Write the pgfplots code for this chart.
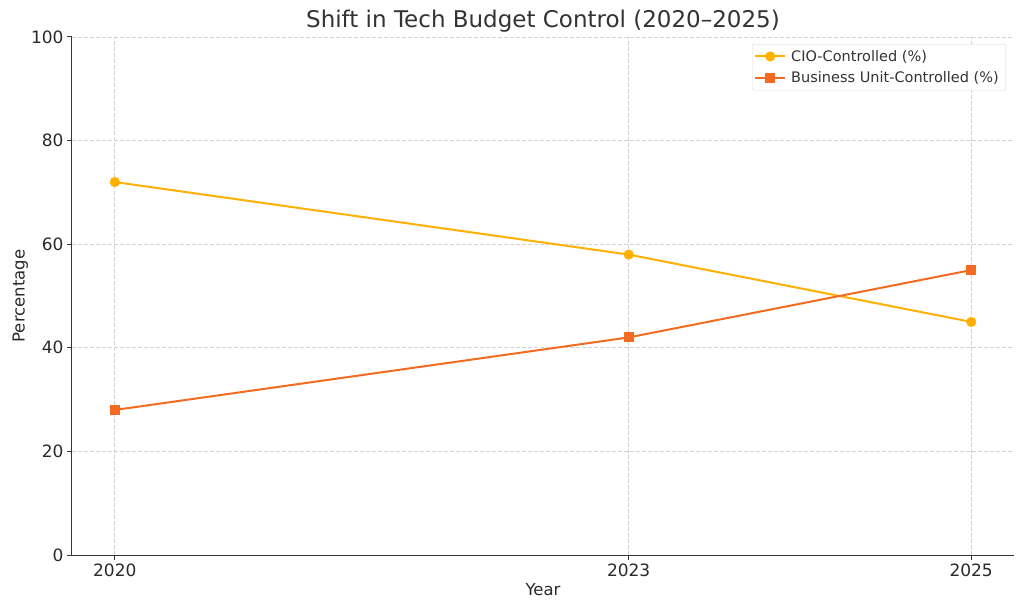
\documentclass[border=0pt]{standalone}
\usepackage{pgfplots}
\pgfplotsset{compat=1.18}
\usepackage{fontspec}
\setmainfont{DejaVu Sans}
\definecolor{cio}{HTML}{FFB000}
\definecolor{bu}{HTML}{F26B21}
\definecolor{txt}{HTML}{333333}
\begin{document}
\begin{tikzpicture}
\begin{axis}[
  at={(0pt,0pt)}, anchor=south west,
  scale only axis, width=942pt, height=518pt,
  xmin=2019.75, xmax=2025.25, ymin=0, ymax=100,
  xtick={2020,2023,2025}, ytick={0,20,40,60,80,100},
  axis x line*=bottom, axis y line*=left,
  axis line style={draw=txt, line width=1pt},
  tick style={draw=txt, line width=1pt},
  tick align=outside, major tick length=5pt,
  x tick label style={/pgf/number format/1000 sep={}},
  /pgf/number format/assume math mode=true,
  ticklabel style={font=\fontsize{17}{20}\selectfont, text=txt!80!black},
  grid=major,
  major grid style={draw=gray!35, dash pattern=on 4pt off 2pt, line width=0.8pt},
  title={Shift in Tech Budget Control (2020–2025)},
  title style={font=\fontsize{23}{27}\selectfont, text=txt, at={(0.5,1)}, anchor=base, yshift=3pt},
  xlabel={Year}, ylabel={Percentage},
  xlabel style={font=\fontsize{16.5}{20}\selectfont, text=txt!80!black},
  ylabel style={font=\fontsize{16.5}{20}\selectfont, text=txt!80!black, yshift=-4pt},
  legend style={at={(0.9915,0.9865)}, anchor=north east, draw=gray!30, rounded corners=2pt,
    font=\fontsize{14.5}{18}\selectfont, text=txt, row sep=5pt, inner xsep=2pt, inner ysep=4pt,
    nodes={inner xsep=5pt}},
  legend cell align=left,
  legend image code/.code={
    \draw[mark repeat=2, mark phase=2, #1] plot coordinates {(0pt,0pt) (15pt,0pt) (30pt,0pt)};
  },
  clip=false,
]
\addplot[cio, line width=2pt, mark=*, mark size=4pt] coordinates {(2020,72) (2023,58) (2025,45)};
\addlegendentry{CIO-Controlled (\%)}
\addplot[bu, line width=2pt, mark=square*, mark size=4pt] coordinates {(2020,28) (2023,42) (2025,55)};
\addlegendentry{Business Unit-Controlled (\%)}
\end{axis}
\path[use as bounding box] (-72pt,-55pt) rectangle (952pt,555pt);
\end{tikzpicture}
\end{document}
